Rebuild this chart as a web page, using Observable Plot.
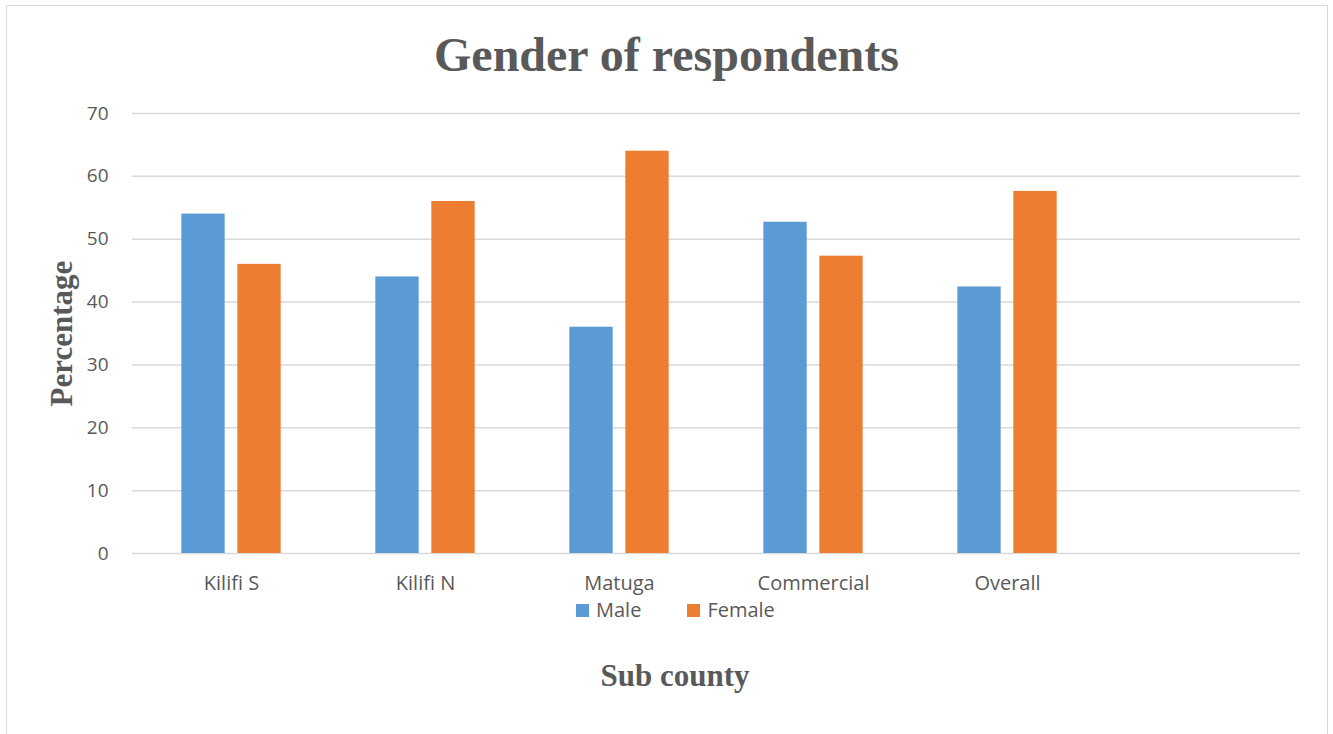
<!DOCTYPE html>
<html>
<head>
<meta charset="utf-8">
<script src="https://cdn.jsdelivr.net/npm/d3@7"></script>
<script src="https://cdn.jsdelivr.net/npm/@observablehq/plot@0.6"></script>
<style>
  body { margin: 0; background: #fff; width: 1333px; height: 734px; overflow: hidden; position: relative; }
  #frame { position: absolute; left: 6px; top: 5px; width: 1322px; height: 760px; box-sizing: border-box; border: 1.5px solid #d9d9d9; }
  #title { position: absolute; left: 0; top: 31px; width: 1333px; text-align: center; line-height: 1;
           font-family: "Liberation Serif", "Times New Roman", serif; font-weight: bold; font-size: 48px; color: #595959; }
  #chart { position: absolute; left: 0; top: 90px; }
  #legend { position: absolute; left: 576px; top: 600px; display: flex; align-items: center; line-height: 1;
            font-family: "Open Sans", sans-serif; font-size: 20px; color: #595959; }
  #legend .item { display: flex; align-items: center; }
  #legend .item + .item { margin-left: 46px; }
  #legend .sw { width: 13px; height: 13px; margin-right: 7px; }
  #xlabel { position: absolute; left: 0; top: 660px; width: 1350px; text-align: center; line-height: 1;
            font-family: "Liberation Serif", "Times New Roman", serif; font-weight: bold; font-size: 31px; color: #595959; }
</style>
</head>
<body>
<div id="frame"></div>
<div id="title"></div>
<div id="chart"></div>
<div id="legend"></div>
<div id="xlabel"></div>
<script>
// Share of respondents by gender in each sub county (percent)
const categories = ["Kilifi S", "Kilifi N", "Matuga", "Commercial", "Overall"];
const male = [54, 44, 36, 52.7, 42.4];
const female = [46, 56, 64, 47.3, 57.6];
const seriesNames = ["Male", "Female"];
const seriesColors = ["#5B9BD5", "#ED7D31"];
const yTicks = [0, 10, 20, 30, 40, 50, 60, 70];
const titleText = "Gender of respondents";
const xLabel = "Sub county";
const yLabel = "Percentage";

const rows = categories.flatMap((c, i) => [
  {category: c, series: seriesNames[0], value: male[i]},
  {category: c, series: seriesNames[1], value: female[i]}
]);

document.getElementById("title").textContent = titleText;
document.getElementById("xlabel").textContent = xLabel;

// Layout: plot frame spans six equal slots; the last slot is left empty
const width = 1333, marginLeft = 132, marginRight = 33;
const band = (width - marginLeft - marginRight) / 6;
const barW = 44, halfGap = 6;

const chart = Plot.plot({
  width,
  height: 508,
  marginLeft,
  marginRight,
  marginTop: 23,
  marginBottom: 45,
  style: {fontFamily: "'Open Sans', sans-serif", fontSize: "19px", color: "#595959", background: "transparent"},
  x: {type: "band", domain: categories, range: [marginLeft, marginLeft + 5 * band], padding: 0},
  y: {domain: [0, 70]},
  marks: [
    Plot.ruleY(yTicks, {stroke: "#d9d9d9", strokeWidth: 1.5}),
    Plot.barY(rows.filter(d => d.series === seriesNames[0]), {
      x: "category", y: "value", fill: seriesColors[0],
      insetLeft: band / 2 - halfGap - barW, insetRight: band / 2 + halfGap
    }),
    Plot.barY(rows.filter(d => d.series === seriesNames[1]), {
      x: "category", y: "value", fill: seriesColors[1],
      insetLeft: band / 2 + halfGap, insetRight: band / 2 - halfGap - barW
    }),
    Plot.axisY({ticks: yTicks, tickSize: 0, tickPadding: 24, label: null}),
    Plot.axisX({tickSize: 0, tickPadding: 22, label: null, fontSize: 20}),
    Plot.text([yLabel], {
      frameAnchor: "left", text: d => d, rotate: -90, dx: -70, textAnchor: "middle",
      fontFamily: "'Liberation Serif', 'Times New Roman', serif", fontWeight: "bold", fontSize: 31
    })
  ]
});
document.getElementById("chart").appendChild(chart);

// Legend swatches below the axis
const legend = document.getElementById("legend");
seriesNames.forEach((name, i) => {
  const item = document.createElement("div");
  item.className = "item";
  const sw = document.createElement("div");
  sw.className = "sw";
  sw.style.background = seriesColors[i];
  const label = document.createElement("span");
  label.textContent = name;
  item.append(sw, label);
  legend.appendChild(item);
});
</script>
</body>
</html>
